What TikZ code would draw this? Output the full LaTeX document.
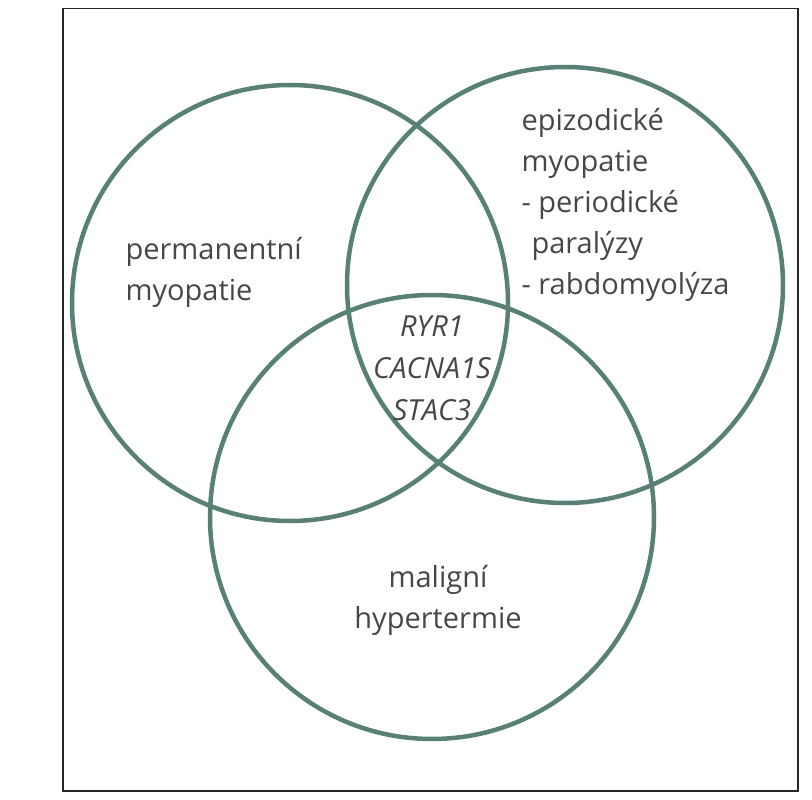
\documentclass[tikz,border=0pt]{standalone}
\usepackage{fontspec}
\setmainfont{Open Sans}
\begin{document}
\begin{tikzpicture}[x=1pt,y=-1pt,
  circ/.style={draw=vcol,line width=4.5pt},
  lbl/.style={font=\fontsize{29}{41}\selectfont,text=black!72,align=left}]
\definecolor{vcol}{RGB}{88,128,118}
\useasboundingbox (0,0) rectangle (812,800);
\fill[white] (0,0) rectangle (812,800);
\node[draw=black!85,line width=1.5pt,minimum width=735pt,minimum height=782pt,anchor=north west] (frame) at (62,8) {};
\node[circ,circle,minimum size=436pt] (L) at (290,303) {};
\node[circ,circle,minimum size=436pt] (R) at (565,285) {};
\node[circ,circle,minimum size=444pt] (B) at (432,517) {};
\node[lbl,anchor=west] (t1) at (122,272) {permanentní\\myopatie};
\node[lbl,anchor=north west] (t2) at (518,105) {epizodické\\myopatie\\- periodické\\\hspace{10pt}paralýzy\\- rabdomyolýza};
\node[lbl,align=center,font=\fontsize{29}{42}\selectfont\itshape] (t3) at (432,368) {RYR1\\CACNA1S\\STAC3};
\node[lbl,align=center] (t4) at (438,600) {maligní\\hypertermie};
\end{tikzpicture}
\end{document}
